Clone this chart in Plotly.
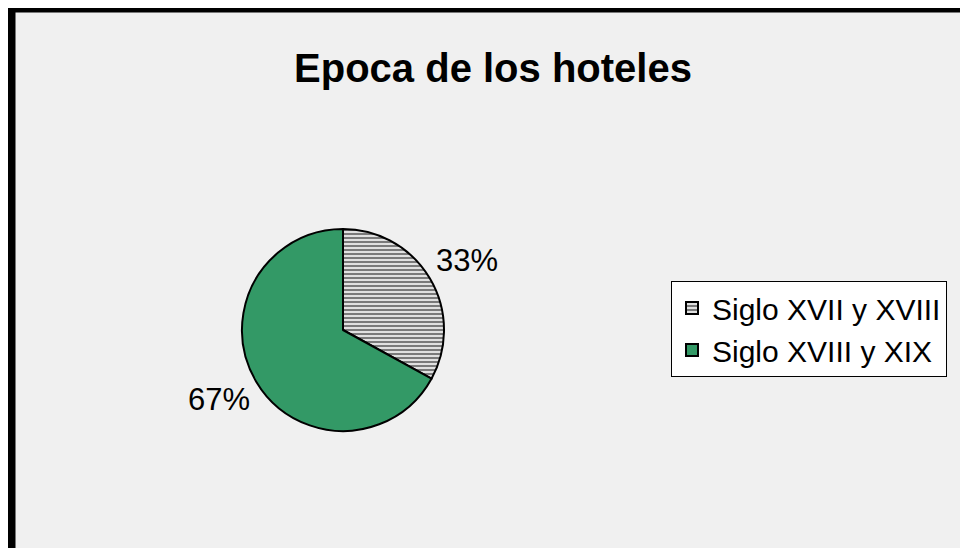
import math
import plotly.graph_objects as go

labels = ["Siglo XVII y XVIII", "Siglo XVIII y XIX"]
values = [33, 67]
title = "Epoca de los hoteles"

# figure is placed at page offset (8, 8) by the default body margin
W, H = 960, 540
OX, OY = 8, 8

def px(x):
    return (x - OX) / W

def py(y):
    return 1 - (y - OY) / H

FONT = "Liberation Sans, Arial"

# pie geometry (page pixels)
CX, CY, R = 343, 330, 101

fig = go.Figure(go.Pie(
    labels=labels,
    values=values,
    sort=False,
    direction="clockwise",
    rotation=0,
    textinfo="none",
    marker=dict(
        colors=["#d8d8d8", "#339966"],
        line=dict(color="black", width=2),
        pattern=dict(shape=["-", ""], fgcolor="#7a7a7a", bgcolor=["#e0e0e0", "#339966"],
                     size=4, solidity=0.5),
    ),
    domain=dict(x=[px(CX - R), px(CX + R)], y=[py(CY + R), py(CY - R)]),
    showlegend=True,
    hoverinfo="label+percent",
))

# percentage labels placed outside each slice at its mid angle
total = sum(values)
annotations = []
cum = 0
for v in values:
    mid = (cum + v / 2) / total * 2 * math.pi
    cum += v
    dx = 1.43 * R * math.sin(mid)
    dy = 1.36 * R * math.cos(mid)
    annotations.append(dict(
        text=f"{round(v / total * 100)}%", xref="paper", yref="paper",
        x=px(CX + dx), y=py(CY - dy), xanchor="center", yanchor="middle",
        showarrow=False, font=dict(family=FONT, size=31, color="black"),
    ))

fig.update_layout(
    width=W, height=H,
    margin=dict(l=0, r=0, t=0, b=0),
    paper_bgcolor="white",
    plot_bgcolor="white",
    title=dict(text="<b>" + title + "</b>", x=px(493), xanchor="center", y=py(68), yanchor="middle",
               font=dict(family=FONT, size=40, color="black")),
    legend=dict(x=px(671), xanchor="left", y=py(281), yanchor="top",
                bgcolor="white", bordercolor="black", borderwidth=1,
                font=dict(family=FONT, size=30, color="black"),
                itemsizing="constant", tracegroupgap=0),
    annotations=annotations,
    shapes=[dict(type="rect", xref="paper", yref="paper",
                 x0=px(11.5), x1=px(975), y0=py(560), y1=py(8.5),
                 line=dict(color="black", width=8), fillcolor="#f0f0f0", layer="below")],
)

fig.write_html("out.html")
